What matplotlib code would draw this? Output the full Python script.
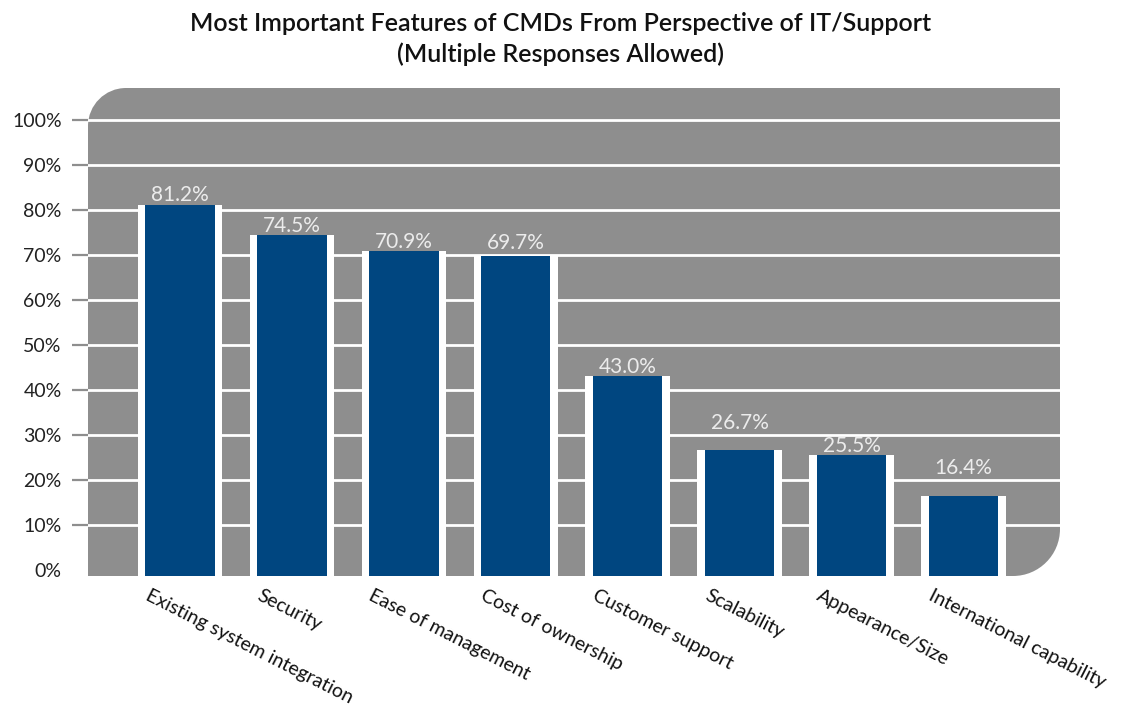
import matplotlib
matplotlib.use("Agg")
import matplotlib.pyplot as plt
from matplotlib.path import Path
from matplotlib.patches import PathPatch
from matplotlib.transforms import Affine2D
import numpy as np

categories = [
    "Existing system integration", "Security", "Ease of management",
    "Cost of ownership", "Customer support", "Scalability",
    "Appearance/Size", "International capability",
]
values = [81.2, 74.5, 70.9, 69.7, 43.0, 26.7, 25.5, 16.4]
yticks = list(range(0, 101, 10))
ytick_labels = [f"{t}%" for t in yticks]
title = "Most Important Features of CMDs From Perspective of IT/Support\n(Multiple Responses Allowed)"

FONT = ["Lato", "DejaVu Sans"]
PANEL = "#8e8e8e"
BAR = "#004680"
W, H = 1124, 706

fig = plt.figure(figsize=(W / 100, H / 100), dpi=100)
fig.patch.set_facecolor("white")
ax_l, ax_r, ax_t, ax_b = 88, 1060, 88, 576
ax = fig.add_axes([ax_l / W, (H - ax_b) / H, (ax_r - ax_l) / W, (ax_b - ax_t) / H])
ax.set_facecolor("none")
ax.set_xlim(-0.822, 7.862)
ymin, ymax = -1.35, 107.1
ax.set_ylim(ymin, ymax)

# background panel with rounded top-left and bottom-right corners
pw, ph = ax_r - ax_l, ax_b - ax_t
r1, r2 = 38, 47
k = 0.5523
verts = [
    (0, 0), (pw - r2, 0),
    (pw - r2 + k * r2, 0), (pw, r2 - k * r2), (pw, r2),
    (pw, ph),
    (r1, ph),
    (r1 - k * r1, ph), (0, ph - r1 + k * r1), (0, ph - r1),
    (0, 0),
]
codes = [Path.MOVETO, Path.LINETO,
         Path.CURVE4, Path.CURVE4, Path.CURVE4,
         Path.LINETO, Path.LINETO,
         Path.CURVE4, Path.CURVE4, Path.CURVE4,
         Path.CLOSEPOLY]
panel = PathPatch(Path(verts, codes), facecolor=PANEL, edgecolor="none",
                  transform=Affine2D().scale(1 / pw, 1 / ph) + ax.transAxes,
                  zorder=0)
ax.add_patch(panel)

# white gridlines across the panel
grid_levels = yticks[1:]
for t in grid_levels:
    ax.axhline(t, color="white", lw=2.0, zorder=1)

x = np.arange(len(categories))
heights = [v - ymin for v in values]
ax.bar(x, heights, bottom=ymin, width=0.755, color="white", zorder=2, linewidth=0)
ax.bar(x, heights, bottom=ymin, width=0.62, color=BAR, zorder=3, linewidth=0)

# value labels sit just above each bar, lifted clear of any gridline they would cross
cap_h = 3.5
for xi, v in zip(x, values):
    y0 = v + 0.7
    hits = [g for g in grid_levels if y0 - 1.0 < g < y0 + cap_h]
    if hits:
        y0 = max(hits) + 1.3
    ax.text(xi, y0, f"{v:.1f}%", ha="center", va="baseline", color="#ececec",
            fontsize=15, family=FONT, zorder=4)

ax.set_yticks(yticks)
ax.set_yticklabels(ytick_labels, family=FONT, fontsize=14, color="#222222")
ax.tick_params(axis="y", length=11.5, width=1.6, color="#8e8e8e", pad=7.5)
ax.set_xticks([])
for s in ax.spines.values():
    s.set_visible(False)
# no tick mark at 0%
ax.yaxis.get_major_ticks()[0].tick1line.set_visible(False)

for xi, lab in zip(x, categories):
    ax.text(xi - 0.265, -0.022, lab, transform=ax.get_xaxis_transform(),
            rotation=-27, rotation_mode="anchor", ha="left", va="top",
            family=FONT, fontsize=14, color="#111111")

fig.text(0.4985, 1 - 12 / H, title, ha="center", va="top", family=FONT,
         fontsize=18, color="#111111", linespacing=1.4, weight="semibold")

fig.savefig("out.png", dpi=100)
